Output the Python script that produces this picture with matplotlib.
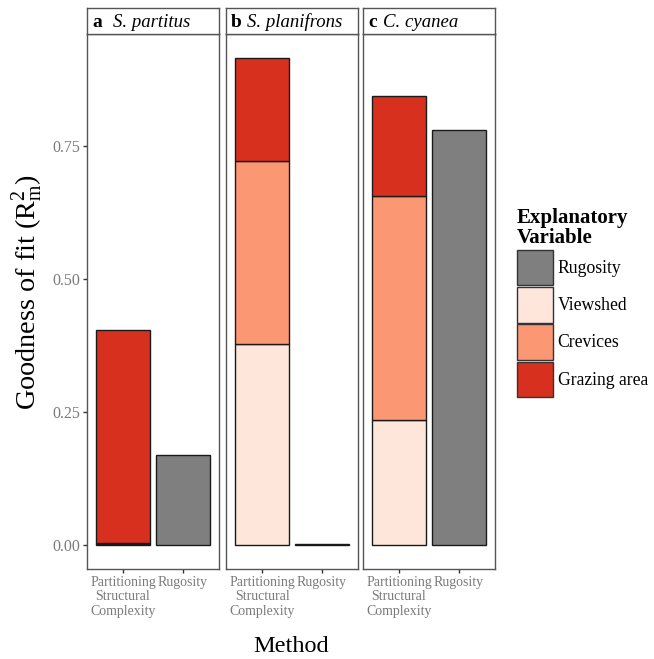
import matplotlib
matplotlib.use('Agg')
import matplotlib.pyplot as plt
from matplotlib.patches import Patch
import numpy as np

plt.rcParams['font.family'] = ['Liberation Serif', 'DejaVu Serif']
plt.rcParams['mathtext.fontset'] = 'custom'
plt.rcParams['mathtext.rm'] = 'Liberation Serif'
plt.rcParams['mathtext.it'] = 'Liberation Serif:italic'

# data
panels = ['a', 'b', 'c']
species = ['S. partitus', 'S. planifrons', 'C. cyanea']
methods = ['Partitioning\nStructural\nComplexity', 'Rugosity']
variables = ['Rugosity', 'Viewshed', 'Crevices', 'Grazing area']
colors = ['#7f7f7f', '#fee6db', '#fc9774', '#d7301f']

viewshed = [0.002, 0.378, 0.235]
crevices = [0.002, 0.344, 0.421]
grazing = [0.399, 0.193, 0.188]
rugosity = [0.169, 0.001, 0.780]

W, H = 654, 659
fig = plt.figure(figsize=(W / 100, H / 100), dpi=100, facecolor='white')

lefts = [87, 226, 363]
sp_off = [26, 21, 20]   # where the species name starts in each strip (px)
pw = 132
top_px, bot_px = 33.5, 569
strip_top = 8

border = '#555555'
tickcol = '#7a7a7a'

for i in range(3):
    ax = fig.add_axes([lefts[i] / W, 1 - bot_px / H, pw / W, (bot_px - top_px) / H])
    x = np.array([1, 2])
    b0 = 0
    for val, col in [(viewshed[i], colors[1]), (crevices[i], colors[2]), (grazing[i], colors[3])]:
        ax.bar(1, val, bottom=b0, width=0.9, color=col, edgecolor='#1a1a1a', linewidth=1)
        b0 += val
    ax.bar(2, rugosity[i], width=0.9, color=colors[0], edgecolor='#1a1a1a', linewidth=1)
    ax.set_xlim(0.4, 2.6)
    ax.set_ylim(-0.0458, 0.961)
    ax.set_xticks(x)
    ax.set_xticklabels(methods, fontsize=10, color=tickcol, linespacing=1.15)
    ax.set_yticks([0, 0.25, 0.5, 0.75])
    ax.tick_params(axis='both', color='#333333', length=3, width=1, pad=2)
    if i == 0:
        ax.set_yticklabels(['0.00', '0.25', '0.50', '0.75'], fontsize=11.5, color=tickcol)
    else:
        ax.set_yticklabels([])
        ax.tick_params(axis='y', length=0)
    for s in ax.spines.values():
        s.set_color(border)
        s.set_linewidth(1)

    # strip
    sax = fig.add_axes([lefts[i] / W, 1 - top_px / H, pw / W, (top_px - strip_top) / H])
    sax.set_xticks([])
    sax.set_yticks([])
    for s in sax.spines.values():
        s.set_color(border)
        s.set_linewidth(1)
    sax.text(5 / pw, 0.45, panels[i], fontsize=14, fontweight='bold', va='center', ha='left',
             transform=sax.transAxes)
    sax.text(sp_off[i] / pw, 0.45, species[i], fontsize=13.5, style='italic', va='center',
             ha='left', transform=sax.transAxes)

fig.text(28 / W, 1 - 292 / H, r'Goodness of fit (R$_\mathrm{m}^\mathrm{2}$)', rotation=90,
         fontsize=20.3, va='center', ha='center')
fig.text(291 / W, 1 - 647 / H, 'Method', fontsize=17.5, va='center', ha='center')

handles = [Patch(facecolor=c, edgecolor='#333333', linewidth=1) for c in colors]
leg = fig.legend(handles, variables, loc='upper left', bbox_to_anchor=(510 / W, 1 - 201 / H),
                 frameon=False, fontsize=12.7, title='Explanatory\nVariable',
                 title_fontproperties={'weight': 'bold', 'size': 15},
                 handlelength=2.05, handleheight=2.72, labelspacing=0.1, handletextpad=0.25,
                 borderaxespad=0)
leg._legend_box.align = 'left'
leg.get_title().set_linespacing(1.0)

fig.savefig('out.png', dpi=100, facecolor='white')
